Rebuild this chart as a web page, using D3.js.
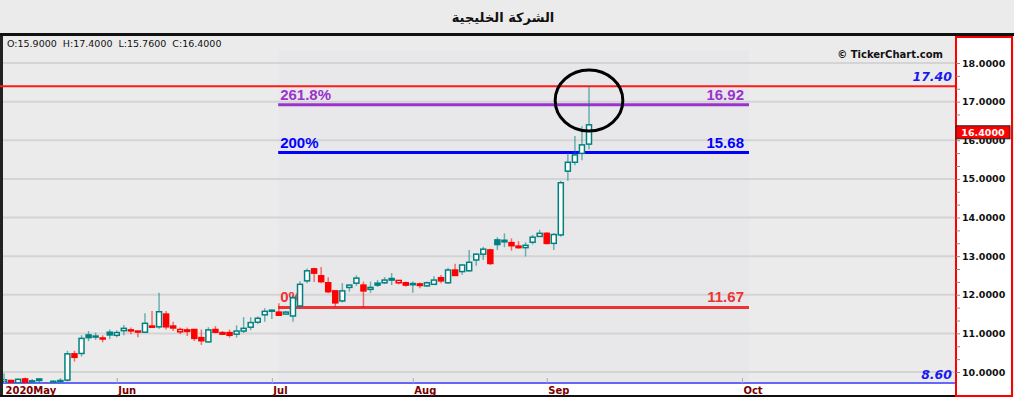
<!DOCTYPE html>
<html>
<head>
<meta charset="utf-8">
<script src="https://cdn.jsdelivr.net/npm/d3@7"></script>
<style>
body { margin: 0; background: #ebebeb; overflow: hidden; }
svg { display: block; }
</style>
</head>
<body>
<svg id="chart" width="1014" height="397"></svg>
<script>
'use strict';

var title = 'الشركة الخليجية';

// daily bars, 2020 May -> Sep
var opens = [9.75, 9.78, 9.72, 9.82, 9.77, 9.82, 9.70, 9.72, 9.78, 9.79,
	10.47, 10.48, 10.96, 10.91, 10.88, 11.03, 10.95, 11.07, 11.09, 11.06,
	11.03, 11.19, 11.17, 11.50, 11.19, 11.04, 11.09, 11.10, 10.89, 10.78,
	11.10, 11.02, 11.02, 10.98, 11.06, 11.16, 11.29, 11.48, 11.60, 11.55,
	11.50, 11.45, 11.71, 12.36, 12.67, 12.49, 12.31, 12.10, 11.84, 12.19,
	12.30, 12.25, 12.14, 12.30, 12.31, 12.42, 12.31, 12.31, 12.29, 12.28,
	12.23, 12.27, 12.44, 12.31, 12.64, 12.60, 12.62, 12.90, 13.05, 13.16,
	13.42, 13.41, 13.35, 13.26, 13.22, 13.36, 13.51, 13.59, 13.33, 13.55,
	15.20, 15.43, 15.66, 15.90];
var highs = [9.97, 9.80, 9.84, 9.86, 9.82, 9.83, 9.72, 9.78, 9.84, 10.55,
	10.55, 10.95, 11.06, 11.02, 10.95, 11.10, 11.08, 11.22, 11.15, 11.06,
	11.52, 11.58, 12.05, 11.58, 11.30, 11.15, 11.15, 11.10, 11.10, 11.16,
	11.19, 11.06, 11.10, 11.21, 11.42, 11.42, 11.44, 11.65, 11.62, 11.78,
	11.58, 11.98, 12.35, 12.68, 12.70, 12.72, 12.45, 12.12, 12.30, 12.25,
	12.50, 12.34, 12.34, 12.38, 12.46, 12.56, 12.38, 12.34, 12.34, 12.32,
	12.34, 12.48, 12.51, 12.70, 12.80, 12.79, 13.16, 13.07, 13.24, 13.19,
	13.49, 13.59, 13.46, 13.39, 13.36, 13.55, 13.68, 13.62, 13.59, 14.95,
	15.67, 16.11, 16.36, 17.40];
var lows = [9.70, 9.65, 9.70, 9.70, 9.70, 9.70, 9.60, 9.70, 9.72, 9.75,
	10.27, 10.40, 10.80, 10.83, 10.77, 10.85, 10.89, 10.95, 10.98, 10.90,
	11.03, 11.15, 11.12, 11.10, 11.06, 10.98, 10.93, 10.80, 10.70, 10.76,
	11.00, 10.96, 10.89, 10.89, 11.01, 11.08, 11.24, 11.30, 11.37, 11.45,
	11.48, 11.30, 11.65, 12.30, 12.33, 12.30, 12.04, 11.69, 11.80, 12.08,
	12.23, 11.67, 12.05, 12.20, 12.28, 12.25, 12.27, 12.21, 12.05, 12.17,
	12.21, 12.26, 12.30, 12.28, 12.50, 12.52, 12.60, 12.75, 12.90, 12.77,
	13.16, 13.23, 13.14, 13.19, 12.99, 13.30, 13.50, 13.30, 13.16, 13.50,
	14.95, 15.35, 15.48, 15.76];
var closes = [9.80, 9.70, 9.81, 9.72, 9.75, 9.78, 9.65, 9.76, 9.77, 10.47,
	10.38, 10.87, 10.89, 10.93, 10.86, 10.96, 11.02, 11.13, 11.07, 11.04,
	11.26, 11.16, 11.56, 11.17, 11.14, 11.10, 11.05, 10.87, 10.81, 11.09,
	11.03, 10.98, 10.95, 11.06, 11.13, 11.28, 11.39, 11.57, 11.58, 11.47,
	11.55, 11.92, 12.27, 12.62, 12.56, 12.34, 12.08, 11.79, 12.10, 12.25,
	12.43, 12.10, 12.19, 12.25, 12.38, 12.38, 12.37, 12.25, 12.26, 12.24,
	12.31, 12.38, 12.36, 12.64, 12.50, 12.77, 12.84, 13.05, 13.18, 12.81,
	13.30, 13.37, 13.27, 13.22, 13.28, 13.49, 13.59, 13.33, 13.56, 14.90,
	15.43, 15.62, 15.88, 16.40];

var monthLabels = ['2020May', 'Jun', 'Jul', 'Aug', 'Sep', 'Oct'];
var monthBars = [0, 16, 38, 58, 77, 104.7];
var priceTicks = [10, 11, 12, 13, 14, 15, 16, 17, 18];

var fibNames = ['261.8%', '200%', '0%'];
var fibPrices = [16.92, 15.68, 11.67];
var fibFrom = 38.9, fibTo = 105.7;
var highLine = 17.40, lowLine = 8.60;
var ring = {bar: 83, price: 17.03, bars: 4.8, prices: 0.79};

var fibColors = ['#9933cc', '#0000ff', '#ee3333'];
var upColor = '#008080', downColor = '#ff0000';

var svg = d3.select('#chart');
var W = 1014, plotL = 3, plotR = 955, plotT = 37, plotB = 383;

var x = d3.scaleLinear().domain([0, 83]).range([4, 589]);
var y = d3.scaleLinear().domain([10, 18]).range([372, 63]);

svg.append('rect').attr('width', W).attr('height', 397).attr('fill', '#ebebeb');

svg.append('text').attr('x', 503).attr('y', 22)
	.attr('text-anchor', 'middle').attr('direction', 'rtl')
	.style('font', 'bold 13px "DejaVu Sans"').attr('fill', '#111')
	.text(title);

svg.append('rect').attr('x', 0).attr('y', 33).attr('width', W).attr('height', 3).attr('fill', '#111');
svg.append('rect').attr('x', 0).attr('y', 36).attr('width', 3).attr('height', 361).attr('fill', '#222');

// fib zone
svg.append('rect')
	.attr('x', x(fibFrom)).attr('y', 50)
	.attr('width', x(fibTo) - x(fibFrom)).attr('height', plotB - 50)
	.attr('fill', '#e8e8eb');

// grid
svg.append('g').selectAll('line').data(priceTicks).enter().append('line')
	.attr('x1', plotL).attr('x2', plotR)
	.attr('y1', function (d) { return y(d); }).attr('y2', function (d) { return y(d); })
	.attr('stroke', '#d4d4d4').attr('stroke-width', 2);

// high / low lines
svg.append('line').attr('x1', 0).attr('x2', plotR)
	.attr('y1', y(highLine)).attr('y2', y(highLine))
	.attr('stroke', '#ff1a1a').attr('stroke-width', 2);
var lowY = Math.min(y(lowLine), plotB);
svg.append('line').attr('x1', plotL).attr('x2', plotR)
	.attr('y1', lowY).attr('y2', lowY)
	.attr('stroke', '#3a3aff').attr('stroke-width', 1.5);

svg.append('text').attr('x', plotR - 3).attr('y', y(highLine) - 5)
	.attr('text-anchor', 'end').attr('fill', '#1a1aee')
	.style('font', 'italic bold 12.5px "DejaVu Sans"').text(highLine.toFixed(2));
svg.append('text').attr('x', plotR - 3).attr('y', lowY - 4)
	.attr('text-anchor', 'end').attr('fill', '#1a1aee')
	.style('font', 'italic bold 12.5px "DejaVu Sans"').text(lowLine.toFixed(2));

// fib levels
var fib = svg.append('g');
fibPrices.forEach(function (p, i) {
	fib.append('line').attr('x1', x(fibFrom)).attr('x2', x(fibTo))
		.attr('y1', y(p)).attr('y2', y(p))
		.attr('stroke', fibColors[i]).attr('stroke-width', 3);
	fib.append('text').attr('x', x(fibFrom) + 2).attr('y', y(p) - 5)
		.attr('fill', fibColors[i]).style('font', 'bold 15px "Liberation Sans"')
		.text(fibNames[i]);
	fib.append('text').attr('x', x(fibTo) - 5).attr('y', y(p) - 5)
		.attr('text-anchor', 'end')
		.attr('fill', fibColors[i]).style('font', 'bold 15px "Liberation Sans"')
		.text(p.toFixed(2));
});

// candles
svg.append('clipPath').attr('id', 'plot').append('rect')
	.attr('x', plotL).attr('y', plotT).attr('width', plotR - plotL).attr('height', plotB - plotT);

var bars = opens.map(function (o, i) {
	return {i: i, o: o, h: highs[i], l: lows[i], c: closes[i],
		up: i === 0 || closes[i] >= closes[i - 1]};
});

var cg = svg.append('g').attr('clip-path', 'url(#plot)');
var candle = cg.selectAll('g').data(bars).enter().append('g');
candle.append('line')
	.attr('x1', function (d) { return x(d.i); }).attr('x2', function (d) { return x(d.i); })
	.attr('y1', function (d) { return y(d.h); }).attr('y2', function (d) { return y(d.l); })
	.attr('stroke', function (d) { return d.up ? upColor : downColor; })
	.attr('stroke-opacity', 0.55).attr('stroke-width', 1.5);
candle.append('rect')
	.attr('x', function (d) { return x(d.i) - 2.5; })
	.attr('width', 5)
	.attr('y', function (d) { return y(Math.max(d.o, d.c)); })
	.attr('height', function (d) { return Math.max(1, Math.abs(y(d.o) - y(d.c))); })
	.attr('fill', function (d) {
		if (d.c > d.o) return '#ffffff';
		return d.up ? upColor : downColor;
	})
	.attr('stroke', function (d) { return d.up ? upColor : downColor; })
	.attr('stroke-width', 1.5);

// ring
svg.append('ellipse')
	.attr('cx', x(ring.bar)).attr('cy', y(ring.price))
	.attr('rx', x(ring.bar + ring.bars) - x(ring.bar))
	.attr('ry', y(ring.price - ring.prices) - y(ring.price))
	.attr('fill', 'none').attr('stroke', '#000').attr('stroke-width', 3);

svg.append('text').attr('x', 943).attr('y', 58).attr('text-anchor', 'end')
	.attr('fill', '#111').style('font', 'bold 10px "DejaVu Sans"')
	.text('\u00a9 TickerChart.com');

// OHLC of last bar
var last = bars[bars.length - 1];
svg.append('text').attr('x', 7).attr('y', 47)
	.style('font', '9.5px "DejaVu Sans"').style('white-space', 'pre').attr('fill', '#111')
	.text('O:' + last.o.toFixed(4) + '  H:' + last.h.toFixed(4) +
		'  L:' + last.l.toFixed(4) + '  C:' + last.c.toFixed(4));

// x axis strip
svg.append('rect').attr('x', plotL).attr('y', plotB + 1).attr('width', plotR - plotL)
	.attr('height', 11).attr('fill', '#fff');
svg.append('rect').attr('x', 0).attr('y', 395).attr('width', plotR).attr('height', 2).attr('fill', '#111');

var xAxis = svg.append('g').attr('transform', 'translate(0,' + (plotB - 5) + ')')
	.call(d3.axisBottom(x).tickValues(monthBars)
		.tickFormat(function (d, i) { return monthLabels[i]; })
		.tickSize(5).tickPadding(3.5));
xAxis.select('.domain').remove();
xAxis.selectAll('line').attr('stroke', '#aaa');
xAxis.selectAll('text').attr('text-anchor', 'start').attr('x', 1)
	.attr('fill', '#7a0000').style('font', 'bold 10px "DejaVu Sans"');

// price axis
svg.append('rect').attr('x', 956).attr('y', 37).attr('width', 56).attr('height', 359)
	.attr('fill', '#fff').attr('stroke', '#ff0000').attr('stroke-width', 2);

var minor = d3.range(10, 18.01, 1 / 3);
svg.append('g').attr('transform', 'translate(956,0)')
	.call(d3.axisRight(y).tickValues(minor).tickFormat('').tickSize(4))
	.call(function (g) {
		g.select('.domain').remove();
		g.selectAll('line').attr('stroke', '#888');
	});
var yAxis = svg.append('g').attr('transform', 'translate(956,0)')
	.call(d3.axisRight(y).tickValues(priceTicks).tickFormat(d3.format('.4f'))
		.tickSize(0).tickPadding(6));
yAxis.select('.domain').remove();
yAxis.selectAll('text').attr('fill', '#111').style('font', 'bold 9.5px "DejaVu Sans"');

// last price tag
svg.append('rect').attr('x', 956).attr('y', y(last.c) + 1).attr('width', 54).attr('height', 13)
	.attr('fill', '#ff0000').attr('stroke', '#222').attr('stroke-width', 1);
svg.append('text').attr('x', 983).attr('y', y(last.c) + 11.5).attr('text-anchor', 'middle')
	.attr('fill', '#fff').style('font', 'bold 9.5px "DejaVu Sans"')
	.text(last.c.toFixed(4));
</script>
</body>
</html>
